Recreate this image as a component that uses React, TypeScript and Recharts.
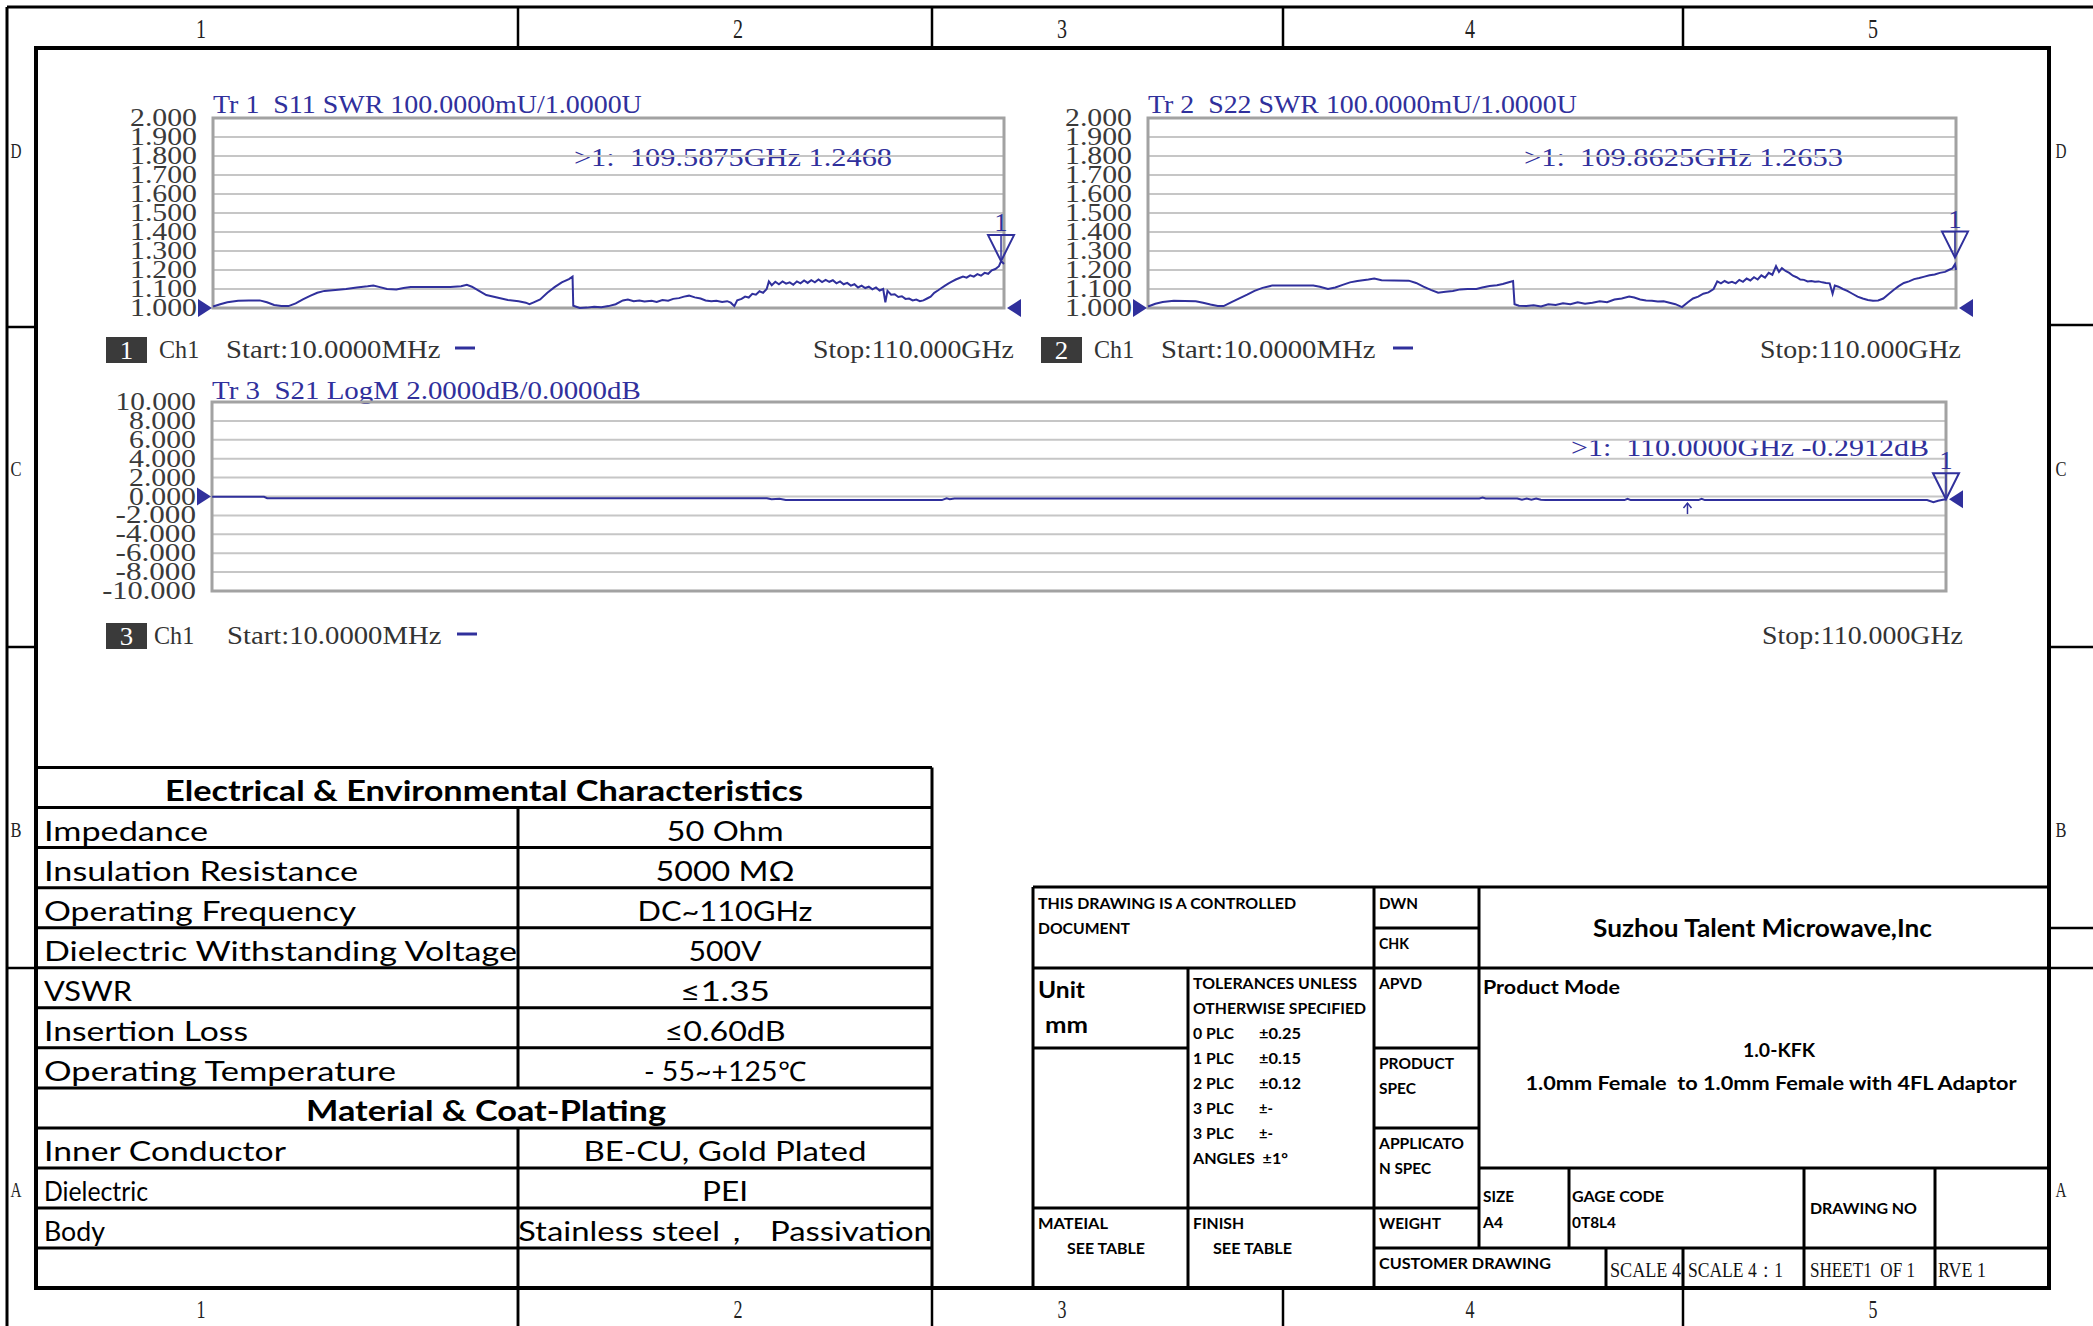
import React from 'react';
import { LineChart, Line, XAxis, YAxis, CartesianGrid, ReferenceArea, ReferenceDot } from 'recharts';

// axis ticks
const freqTicks = [0, 11, 22, 33, 44, 55, 66, 77, 88, 99, 110];
const swrTicks = [1.0, 1.1, 1.2, 1.3, 1.4, 1.5, 1.6, 1.7, 1.8, 1.9, 2.0];
const dbTicks = [-10, -8, -6, -4, -2, 0, 2, 4, 6, 8, 10];

const s11Trace: number[][] = [
  [0.01, 1.008], [1, 1.02], [2, 1.03], [3.5, 1.038], [5, 1.04], [6.5, 1.04], [7.5, 1.03], [8.5, 1.016],
  [9.5, 1.01], [10.5, 1.01], [11.5, 1.024], [12.5, 1.045], [13.5, 1.064], [14.5, 1.08], [15.5, 1.09],
  [17, 1.095], [18.5, 1.1], [20, 1.108], [21.5, 1.114], [22.3, 1.118], [23.2, 1.11], [24.2, 1.1],
  [25.5, 1.097], [26.5, 1.105], [27.5, 1.11], [30, 1.111], [33, 1.111], [34.5, 1.115], [35.3, 1.122],
  [36, 1.112], [37, 1.09], [38, 1.068], [39.5, 1.055], [41, 1.042], [42.5, 1.036], [43.5, 1.028],
  [44, 1.02], [44.6, 1.03], [45.5, 1.045], [46.5, 1.08], [47.5, 1.11], [48.5, 1.135], [49.5, 1.152],
  [50, 1.165], [50.1, 1.012], [51, 1.0], [52, 1.002], [53, 1.006], [54, 1.004], [55, 1.01], [56, 1.02],
  [57, 1.04], [57.7, 1.045], [58.5, 1.036], [59.3, 1.04], [60, 1.034], [61, 1.038], [61.7, 1.032],
  [62.5, 1.042], [63.3, 1.038], [64, 1.048], [64.8, 1.052], [65.5, 1.06], [66.2, 1.065], [67, 1.056],
  [67.8, 1.05], [68.5, 1.04], [69.3, 1.036], [70, 1.038], [70.8, 1.032], [71.5, 1.036], [72, 1.028],
  [72.5, 1.01], [72.9, 1.04], [73.5, 1.048], [74, 1.06], [74.5, 1.055], [75, 1.075], [75.5, 1.07],
  [76, 1.088], [76.5, 1.08], [77, 1.1], [77.3, 1.14], [77.7, 1.12], [78.2, 1.138], [78.7, 1.125],
  [79.2, 1.14], [79.7, 1.128], [80.2, 1.135], [80.7, 1.122], [81.2, 1.14], [81.7, 1.13], [82.2, 1.145],
  [82.7, 1.132], [83.2, 1.146], [83.7, 1.135], [84.2, 1.15], [84.7, 1.136], [85.2, 1.148], [85.7, 1.138],
  [86.2, 1.146], [86.7, 1.13], [87.2, 1.14], [87.7, 1.125], [88.2, 1.132], [88.7, 1.118], [89.2, 1.125],
  [89.7, 1.108], [90.2, 1.118], [90.7, 1.105], [91.2, 1.112], [91.7, 1.098], [92.2, 1.108], [92.7, 1.092],
  [93.2, 1.1], [93.5, 1.03], [93.8, 1.09], [94.3, 1.07], [94.8, 1.072], [95.3, 1.058], [95.8, 1.062],
  [96.3, 1.048], [96.8, 1.05], [97.3, 1.04], [97.8, 1.044], [98.3, 1.036], [98.8, 1.04], [99.3, 1.05],
  [99.8, 1.06], [100.3, 1.08], [100.8, 1.092], [101.3, 1.105], [101.8, 1.118], [102.3, 1.13], [102.8, 1.14],
  [103.3, 1.15], [103.8, 1.158], [104.3, 1.165], [104.8, 1.16], [105.3, 1.172], [105.8, 1.165],
  [106.3, 1.178], [106.8, 1.17], [107.3, 1.185], [107.8, 1.18], [108.3, 1.198], [108.8, 1.205],
  [109.3, 1.22], [109.6, 1.247], [110, 1.232],
];

const s22Trace: number[][] = [
  [0.01, 1.008], [1, 1.022], [2, 1.032], [3.5, 1.038], [5, 1.037], [6.5, 1.035], [7.5, 1.028], [8.5, 1.018],
  [9.5, 1.01], [10.3, 1.01], [11.3, 1.03], [12.5, 1.052], [13.5, 1.07], [14.5, 1.09], [15.6, 1.106],
  [16.9, 1.118], [20.4, 1.118], [22.5, 1.118], [23.4, 1.112], [24.5, 1.1], [25.5, 1.108], [26.5, 1.122],
  [27.5, 1.135], [28.5, 1.142], [30, 1.15], [30.8, 1.155], [31.8, 1.146], [33.5, 1.145], [35.5, 1.144],
  [36.5, 1.132], [37.5, 1.112], [38.5, 1.095], [39.5, 1.08], [40.5, 1.085], [41.5, 1.09], [42.5, 1.098],
  [43.5, 1.1], [44.7, 1.1], [45.5, 1.108], [46.5, 1.116], [47.5, 1.12], [48.3, 1.126], [49, 1.134],
  [49.7, 1.142], [49.9, 1.02], [50.5, 1.012], [51.5, 1.01], [52.5, 1.015], [53.5, 1.008], [54.5, 1.02],
  [55.5, 1.016], [56.5, 1.025], [57.5, 1.02], [58.5, 1.03], [59.5, 1.022], [60.5, 1.028], [61.5, 1.035],
  [62.5, 1.03], [63.5, 1.045], [64.5, 1.05], [65.5, 1.06], [66.2, 1.055], [67, 1.045], [67.8, 1.04],
  [68.6, 1.038], [69.4, 1.034], [70.2, 1.036], [71, 1.028], [71.8, 1.02], [72.7, 1.005], [73.5, 1.03],
  [74.2, 1.05], [74.9, 1.06], [75.6, 1.075], [76.3, 1.082], [77, 1.1], [77.5, 1.14], [78, 1.13],
  [78.5, 1.142], [79, 1.132], [79.5, 1.138], [80, 1.13], [80.5, 1.148], [81, 1.138], [81.5, 1.155],
  [82, 1.145], [82.5, 1.162], [83, 1.15], [83.5, 1.172], [84, 1.16], [84.5, 1.185], [85, 1.175],
  [85.5, 1.22], [85.9, 1.19], [86.3, 1.21], [86.8, 1.195], [87.3, 1.185], [87.8, 1.17], [88.3, 1.162],
  [88.8, 1.15], [89.3, 1.148], [89.8, 1.14], [90.3, 1.142], [90.8, 1.138], [91.3, 1.14], [91.8, 1.135],
  [92.3, 1.132], [92.8, 1.13], [93.2, 1.075], [93.5, 1.118], [94, 1.112], [94.6, 1.1], [95.2, 1.09],
  [95.9, 1.075], [96.6, 1.06], [97.3, 1.05], [98, 1.042], [98.7, 1.038], [99.4, 1.04], [100.1, 1.05],
  [100.8, 1.072], [101.5, 1.095], [102.2, 1.115], [102.9, 1.132], [103.6, 1.14], [104.3, 1.152],
  [105, 1.158], [105.7, 1.165], [106.4, 1.172], [107.1, 1.176], [107.8, 1.185], [108.5, 1.19],
  [109, 1.2], [109.5, 1.208], [109.86, 1.23], [110, 1.2],
];

const s21Trace: number[][] = [
  [0.01, -0.03], [3.3, -0.03], [3.5, -0.18], [35.2, -0.18], [35.5, -0.3], [36, -0.25], [36.4, -0.38],
  [46.3, -0.38], [46.6, -0.2], [46.8, -0.28], [47.1, -0.2], [80.4, -0.2], [80.6, -0.12], [80.8, -0.22],
  [82.8, -0.22], [83.1, -0.35], [83.4, -0.22], [83.7, -0.35], [84, -0.22], [84.3, -0.35], [84.6, -0.38],
  [89.6, -0.38], [89.8, -0.25], [90, -0.38], [94.3, -0.38], [94.5, -0.25], [94.7, -0.38], [108.8, -0.38],
  [109.2, -0.6], [109.5, -0.45], [109.8, -0.35], [110, -0.29],
];

const s11Marker = [109.5875, 1.2468];
const s22Marker = [109.8625, 1.2653];
const s21Marker = [110.0, -0.2912];
const s21RefArrow = [93.6, -0.38];

const SERIF = "'Liberation Serif', 'DejaVu Serif', serif";
const SANS = "Lato, 'Open Sans', sans-serif";
const BLUE = '#30309c';
const GRID = '#c6c6c6';
const BORDER = '#a2a2a2';
const LABEL = '#3a3a3a';
const CW = 13.4; // width of one character of the analyzer font
const PRE = { whiteSpace: 'pre' as const };

const Y_W = 120;
const MT = 45;
const MR = 40;
const MB = 20;

const YTick = (props: any) => {
  const { x, y, payload } = props;
  const s = Number(payload.value).toFixed(3);
  return (
    <text x={x} y={y + 8} textAnchor="end" fontFamily={SERIF} fontSize={25} fill={LABEL}
      textLength={s.length * CW} lengthAdjust="spacingAndGlyphs">{s}</text>
  );
};

const LeftArrow = (p: any) => (
  <path d={`M${p.cx - 1},${p.cy} L${p.cx - 15},${p.cy - 9} L${p.cx - 15},${p.cy + 9} Z`} fill={BLUE} />
);
const RightArrow = (p: any) => (
  <path d={`M${p.cx + 3},${p.cy} L${p.cx + 17},${p.cy - 9} L${p.cx + 17},${p.cy + 9} Z`} fill={BLUE} />
);
const MarkerShape = (p: any) => (
  <g>
    <path d={`M${p.cx - 13},${p.cy - 26} L${p.cx + 13},${p.cy - 26} L${p.cx},${p.cy} Z`} fill="none" stroke={BLUE} strokeWidth={2} />
    <line x1={p.cx} y1={p.cy - 26} x2={p.cx} y2={p.cy} stroke={BLUE} strokeWidth={1.5} />
    <text x={p.cx} y={p.cy - 30} textAnchor="middle" fontFamily={SERIF} fontSize={26} fill={BLUE}
      textLength={CW} lengthAdjust="spacingAndGlyphs">1</text>
  </g>
);
const UpArrow = (p: any) => (
  <g stroke={BLUE} strokeWidth={1.5} fill="none">
    <line x1={p.cx} y1={p.cy + 3} x2={p.cx} y2={p.cy + 14} />
    <path d={`M${p.cx - 4},${p.cy + 8} L${p.cx},${p.cy + 3} L${p.cx + 4},${p.cy + 8}`} />
  </g>
);

type ChartProps = {
  left: number; top: number; w: number; h: number; trace: number[][];
  yDomain: [number, number]; yTicks: number[]; marker: number[]; refLevel: number; arrow?: number[];
};

function VnaChart({ left, top, w, h, trace, yDomain, yTicks, marker, refLevel, arrow }: ChartProps) {
  const data = trace.map(([f, v]) => ({ f, v }));
  return (
    <div style={{ position: 'absolute', left: left - Y_W, top: top - MT }}>
      <LineChart width={Y_W + w + MR} height={MT + h + MB} data={data} margin={{ top: MT, right: MR, bottom: MB, left: 0 }}>
        <CartesianGrid stroke={GRID} strokeWidth={2} />
        <XAxis type="number" dataKey="f" domain={[0, 110]} ticks={freqTicks} tick={false} axisLine={false} tickLine={false} height={0} />
        <YAxis type="number" domain={yDomain} ticks={yTicks} interval={0} width={Y_W} axisLine={false}
          tickLine={false} tickSize={0} tickMargin={16} tick={<YTick />} />
        <ReferenceArea x1={0} x2={110} y1={yDomain[0]} y2={yDomain[1]} fill="none" stroke={BORDER} strokeWidth={3} ifOverflow="visible" />
        <Line type="linear" dataKey="v" stroke={BLUE} strokeWidth={2} dot={false} activeDot={false} isAnimationActive={false} />
        <ReferenceDot x={0} y={refLevel} shape={LeftArrow} ifOverflow="visible" />
        <ReferenceDot x={110} y={refLevel === 0 ? marker[1] : refLevel} shape={RightArrow} ifOverflow="visible" />
        <ReferenceDot x={marker[0]} y={marker[1]} shape={MarkerShape} ifOverflow="visible" />
        {arrow ? <ReferenceDot x={arrow[0]} y={arrow[1]} shape={UpArrow} ifOverflow="visible" /> : null}
      </LineChart>
    </div>
  );
}

const Mono = ({ x, y, s, fill = '#333', w, anchor = 'start' as any }: any) => (
  <text x={x} y={y} fontFamily={SERIF} fontSize={26} fill={fill} textAnchor={anchor} xmlSpace="preserve" style={PRE}
    textLength={w ?? s.length * CW} lengthAdjust="spacingAndGlyphs">{s}</text>
);

const T = ({ x, y, s, size = 15, w, bold = true, anchor = 'start', font = SANS }: any) => (
  <text x={x} y={y} fontSize={size} fontFamily={font} fontWeight={bold ? 700 : 400} textAnchor={anchor} fill="#000"
    xmlSpace="preserve" style={PRE}
    {...(w ? { textLength: w, lengthAdjust: 'spacingAndGlyphs' } : {})}>{s}</text>
);

const Footer = ({ n, bx, ty, ch, start, dash, stop }: any) => (
  <g>
    <rect x={bx} y={ty - 21} width={41} height={26} fill="#3a3a3a" />
    <Mono x={bx + 20.5} y={ty + 1} s={n} fill="#fff" anchor="middle" />
    <Mono x={ch} y={ty} s="Ch1" />
    <Mono x={start} y={ty} s="Start:10.0000MHz" />
    <line x1={dash} y1={ty - 10} x2={dash + 20} y2={ty - 10} stroke={BLUE} strokeWidth={3} />
    <Mono x={stop} y={ty} s="Stop:110.000GHz" />
  </g>
);

// frame
const marginCols = [518, 932, 1283, 1683];
const colNums = [[201, '1'], [738, '2'], [1062, '3'], [1470, '4'], [1873, '5']];
const rowLetters = [[150, 'D'], [468, 'C'], [829, 'B'], [1189, 'A']];

// spec table
const specRows: any[] = [
  { head: 'Electrical & Environmental Characteristics', w: 638, cx: 484 },
  { a: 'Impedance', aw: 164, b: '50 Ohm', bw: 117 },
  { a: 'Insulation Resistance', aw: 314, b: '5000 MΩ', bw: 139 },
  { a: 'Operating Frequency', aw: 312, b: 'DC~110GHz', bw: 175 },
  { a: 'Dielectric Withstanding Voltage', aw: 473, b: '500V', bw: 73 },
  { a: 'VSWR', aw: 88, b: '≤1.35', bw: 90 },
  { a: 'Insertion Loss', aw: 204, b: '≤0.60dB', bw: 121 },
  { a: 'Operating Temperature', aw: 352, b: '- 55~+125℃', bw: 162 },
  { head: 'Material & Coat-Plating', w: 360, cx: 486 },
  { a: 'Inner Conductor', aw: 242, b: 'BE-CU, Gold Plated', bw: 283 },
  { a: 'Dielectric', aw: 104, b: 'PEI', bw: 46 },
  { a: 'Body', aw: 61, b: 'Stainless steel，  Passivation', bw: 414 },
  { a: '', aw: 0, b: '', bw: 0 },
];
const ROW0 = 767.5;
const ROWH = 40.05;

// title block
const tbLines = [
  [1033, 887, 2049, 887], [1374, 928, 1479, 928], [1033, 968, 2049, 968], [1033, 1048, 1188, 1048],
  [1374, 1048, 1479, 1048], [1374, 1128, 1479, 1128], [1479, 1168, 2049, 1168], [1033, 1208, 1479, 1208],
  [1374, 1248, 2049, 1248], [1033, 887, 1033, 1288], [1188, 968, 1188, 1288], [1374, 887, 1374, 1288],
  [1479, 887, 1479, 1248], [1569, 1168, 1569, 1248], [1804, 1168, 1804, 1288], [1935, 1168, 1935, 1288],
  [1606, 1248, 1606, 1288], [1683, 1248, 1683, 1288],
];
const tbText: any[] = [
  [1038, 909, 'THIS DRAWING IS A CONTROLLED', 15, 258], [1038, 934, 'DOCUMENT', 15, 92],
  [1379, 909, 'DWN', 15, 39], [1379, 949, 'CHK', 15, 30],
  [1593, 937, 'Suzhou Talent Microwave,Inc', 24, 339],
  [1038, 998, 'Unit', 22, 47], [1045, 1033, 'mm', 22, 43],
  [1193, 989, 'TOLERANCES UNLESS', 15, 164], [1193, 1014, 'OTHERWISE SPECIFIED', 15, 173],
  [1193, 1039, '0 PLC', 15, 41], [1259, 1039, '±0.25', 15, 42],
  [1193, 1064, '1 PLC', 15, 41], [1259, 1064, '±0.15', 15, 42],
  [1193, 1089, '2 PLC', 15, 41], [1259, 1089, '±0.12', 15, 42],
  [1193, 1114, '3 PLC', 15, 41], [1259, 1114, '±-', 15, 14],
  [1193, 1139, '3 PLC', 15, 41], [1259, 1139, '±-', 15, 14],
  [1193, 1164, 'ANGLES  ±1°', 15, 95],
  [1379, 989, 'APVD', 15, 43], [1483, 994, 'Product Mode', 19, 137],
  [1379, 1069, 'PRODUCT', 15, 75], [1379, 1094, 'SPEC', 15, 37],
  [1379, 1149, 'APPLICATO', 15, 85], [1379, 1174, 'N SPEC', 15, 52],
  [1483, 1202, 'SIZE', 15, 31], [1483, 1228, 'A4', 15, 20],
  [1572, 1202, 'GAGE CODE', 15, 92], [1572, 1228, '0T8L4', 15, 44],
  [1810, 1214, 'DRAWING NO', 15, 107],
  [1038, 1229, 'MATEIAL', 15, 70], [1067, 1254, 'SEE TABLE', 15, 78],
  [1193, 1229, 'FINISH', 15, 51], [1213, 1254, 'SEE TABLE', 15, 79],
  [1379, 1229, 'WEIGHT', 15, 62], [1379, 1269, 'CUSTOMER DRAWING', 15, 172],
];
const tbSerif: any[] = [
  [1610, 1277, 'SCALE 4', 71], [1688, 1277, 'SCALE 4：1', 95], [1810, 1277, 'SHEET1  OF 1', 105], [1938, 1277, 'RVE 1', 48],
];

export default function App() {
  return (
    <div style={{ position: 'absolute', left: 0, top: 0, width: 2093, height: 1326, background: '#fff', overflow: 'hidden' }}>
      <svg width={2093} height={1326} style={{ position: 'absolute', left: 0, top: 0 }}>
        {/* drawing frame */}
        <line x1={7} y1={7} x2={2093} y2={7} stroke="#000" strokeWidth={3} />
        <line x1={7} y1={7} x2={7} y2={1326} stroke="#000" strokeWidth={3} />
        <rect x={36} y={48} width={2013} height={1240} fill="none" stroke="#000" strokeWidth={4} />
        {marginCols.map((x) => (
          <g key={x}>
            <line x1={x} y1={7} x2={x} y2={48} stroke="#000" strokeWidth={2.5} />
            <line x1={x} y1={1288} x2={x} y2={1326} stroke="#000" strokeWidth={2.5} />
          </g>
        ))}
        {[327, 647, 968].map((y) => <line key={y} x1={7} y1={y} x2={36} y2={y} stroke="#000" strokeWidth={2.5} />)}
        {[325, 647, 928, 968].map((y) => <line key={y} x1={2049} y1={y} x2={2093} y2={y} stroke="#000" strokeWidth={2.5} />)}
        {colNums.map(([x, s]: any) => (
          <g key={s}>
            <text x={x} y={38} textAnchor="middle" fontFamily={SERIF} fontSize={28} fill="#222" textLength={10} lengthAdjust="spacingAndGlyphs">{s}</text>
            <text x={x} y={1318} textAnchor="middle" fontFamily={SERIF} fontSize={26} fill="#222" textLength={9} lengthAdjust="spacingAndGlyphs">{s}</text>
          </g>
        ))}
        {rowLetters.map(([y, s]: any) => (
          <g key={s}>
            <text x={16} y={y + 8} textAnchor="middle" fontFamily={SERIF} fontSize={22} fill="#222" textLength={11} lengthAdjust="spacingAndGlyphs">{s}</text>
            <text x={2061} y={y + 8} textAnchor="middle" fontFamily={SERIF} fontSize={22} fill="#222" textLength={11} lengthAdjust="spacingAndGlyphs">{s}</text>
          </g>
        ))}

        {/* analyzer captions */}
        <Mono x={213} y={113} s="Tr 1  S11 SWR 100.0000mU/1.0000U" fill={BLUE} />
        <Mono x={574} y={166} s=">1:  109.5875GHz 1.2468" fill={BLUE} w={318} />
        <Mono x={1148} y={113} s="Tr 2  S22 SWR 100.0000mU/1.0000U" fill={BLUE} />
        <Mono x={1524} y={166} s=">1:  109.8625GHz 1.2653" fill={BLUE} w={319} />
        <Mono x={212} y={399} s="Tr 3  S21 LogM 2.0000dB/0.0000dB" fill={BLUE} />
        <Mono x={1571} y={456} s=">1:  110.0000GHz -0.2912dB" fill={BLUE} w={358} />
        <Footer n="1" bx={106} ty={358} ch={159} start={226} dash={455} stop={813} />
        <Footer n="2" bx={1041} ty={358} ch={1094} start={1161} dash={1393} stop={1760} />
        <Footer n="3" bx={106} ty={644} ch={154} start={227} dash={457} stop={1762} />

        {/* spec table */}
        {specRows.map((r, i) => {
          const top = ROW0 + i * ROWH;
          return (
            <g key={i}>
              <line x1={36} y1={top} x2={932} y2={top} stroke="#000" strokeWidth={3} />
              {r.head ? (
                <T x={r.cx} y={top + 33} s={r.head} size={28} w={r.w} anchor="middle" />
              ) : (
                <g>
                  <line x1={518} y1={top} x2={518} y2={top + ROWH} stroke="#000" strokeWidth={3} />
                  {r.a ? <T x={44} y={top + 33} s={r.a} size={27} w={r.aw} bold={false} /> : null}
                  {r.b ? <T x={725} y={top + 33} s={r.b} size={27} w={r.bw} bold={false} anchor="middle" /> : null}
                </g>
              )}
            </g>
          );
        })}
        <line x1={932} y1={ROW0} x2={932} y2={1288} stroke="#000" strokeWidth={3} />
        <line x1={518} y1={1288} x2={518} y2={1326} stroke="#000" strokeWidth={2.5} />

        {/* title block */}
        {tbLines.map((l, i) => <line key={i} x1={l[0]} y1={l[1]} x2={l[2]} y2={l[3]} stroke="#000" strokeWidth={3} />)}
        {tbText.map((t, i) => <T key={i} x={t[0]} y={t[1]} s={t[2]} size={t[3]} w={t[4]} />)}
        <T x={1779} y={1057} s="1.0-KFK" size={18} w={72} anchor="middle" />
        <T x={1771} y={1090} s="1.0mm Female  to 1.0mm Female with 4FL Adaptor" size={18} w={491} anchor="middle" />
        {tbSerif.map((t, i) => (
          <text key={i} x={t[0]} y={t[1]} fontFamily={SERIF} fontSize={20} fill="#111" xmlSpace="preserve" style={PRE}
            textLength={t[3]} lengthAdjust="spacingAndGlyphs">{t[2]}</text>
        ))}
      </svg>

      <VnaChart left={213} top={118} w={791} h={190} trace={s11Trace} yDomain={[1, 2]} yTicks={swrTicks} marker={s11Marker} refLevel={1} />
      <VnaChart left={1148} top={118} w={808} h={190} trace={s22Trace} yDomain={[1, 2]} yTicks={swrTicks} marker={s22Marker} refLevel={1} />
      <VnaChart left={212} top={402} w={1734} h={189} trace={s21Trace} yDomain={[-10, 10]} yTicks={dbTicks} marker={s21Marker} refLevel={0} arrow={s21RefArrow} />
    </div>
  );
}
